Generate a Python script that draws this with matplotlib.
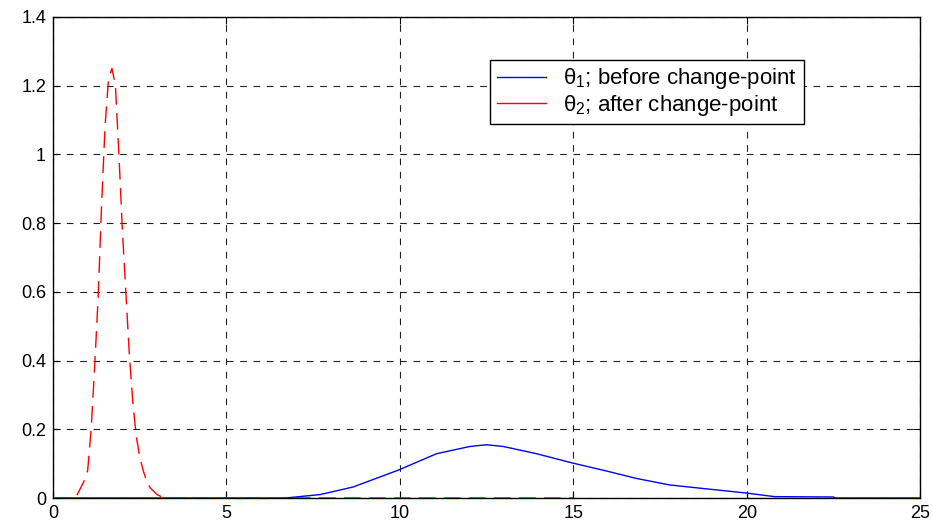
import matplotlib
matplotlib.use("Agg")
import matplotlib.pyplot as plt
from matplotlib.lines import Line2D

plt.rcParams['font.family'] = ['Liberation Sans', 'DejaVu Sans']
plt.rcParams['mathtext.fontset'] = 'custom'
plt.rcParams['mathtext.rm'] = 'Liberation Sans'
plt.rcParams['mathtext.it'] = 'Liberation Sans'

# theta_1 posterior (before change-point)
blue_x = [0, 6.7, 7.7, 8.65, 9.95, 11.06, 12.02, 12.5, 12.98, 13.94, 14.97, 15.86, 16.82,
          17.78, 18.9, 19.94, 20.8, 22.5, 22.55, 25]
blue_y = [0, 0, 0.010, 0.032, 0.081, 0.129, 0.150, 0.155, 0.150, 0.129, 0.102, 0.081, 0.057,
          0.038, 0.026, 0.015, 0.004, 0.003, 0, 0]

# theta_2 posterior (after change-point)
red_x = [0, 0.6, 0.7, 0.8, 0.9, 1.0, 1.1, 1.2, 1.3, 1.4, 1.5, 1.6, 1.7, 1.8, 1.9, 2.0,
         2.1, 2.2, 2.3, 2.4, 2.5, 2.6, 2.7, 2.8, 2.9, 3.0, 3.1, 3.2, 15]
red_y = [0, 0, 0.01, 0.03, 0.05, 0.08, 0.2, 0.38, 0.58, 0.85, 1.08, 1.22, 1.25, 1.2, 1.0,
         0.78, 0.6, 0.42, 0.28, 0.18, 0.12, 0.08, 0.05, 0.03, 0.02, 0.01, 0.005, 0, 0]

labels = ['θ$_1$; before change-point', 'θ$_2$; after change-point']

fig = plt.figure(figsize=(9.33, 5.24), dpi=100, facecolor='white')
ax = fig.add_axes([0.0568, 0.0496, 0.9294, 0.918])

ax.plot(blue_x, blue_y, color='#0000ff', lw=1.0)
ax.plot(red_x, red_y, color='#ff0000', lw=1.0, linestyle=(0, (12, 6)))

ax.set_xlim(0, 25)
ax.set_ylim(0, 1.4)
ax.set_xticks([0, 5, 10, 15, 20, 25])
ax.set_yticks([0, 0.2, 0.4, 0.6, 0.8, 1, 1.2, 1.4])
ax.set_yticklabels(['0', '0.2', '0.4', '0.6', '0.8', '1', '1.2', '1.4'])
ax.tick_params(direction='in', length=5, width=0.8, top=True, right=True,
               labelsize=13, pad=5)
ax.grid(True, color='#222222', linestyle=(0, (6, 6)), lw=0.8)
for s in ax.spines.values():
    s.set_linewidth(1.0)

handles = [Line2D([], [], color='#0000ff', lw=1.0), Line2D([], [], color='#ff0000', lw=1.0)]
leg = ax.legend(handles, labels, loc='upper left', bbox_to_anchor=(0.504, 0.911),
                borderaxespad=0, fontsize=16, fancybox=False, edgecolor='black',
                framealpha=1, handlelength=2.2, handletextpad=0.8,
                labelspacing=0.05, borderpad=0.3)
leg.get_frame().set_linewidth(1.0)

fig.savefig('out.png', dpi=100)
